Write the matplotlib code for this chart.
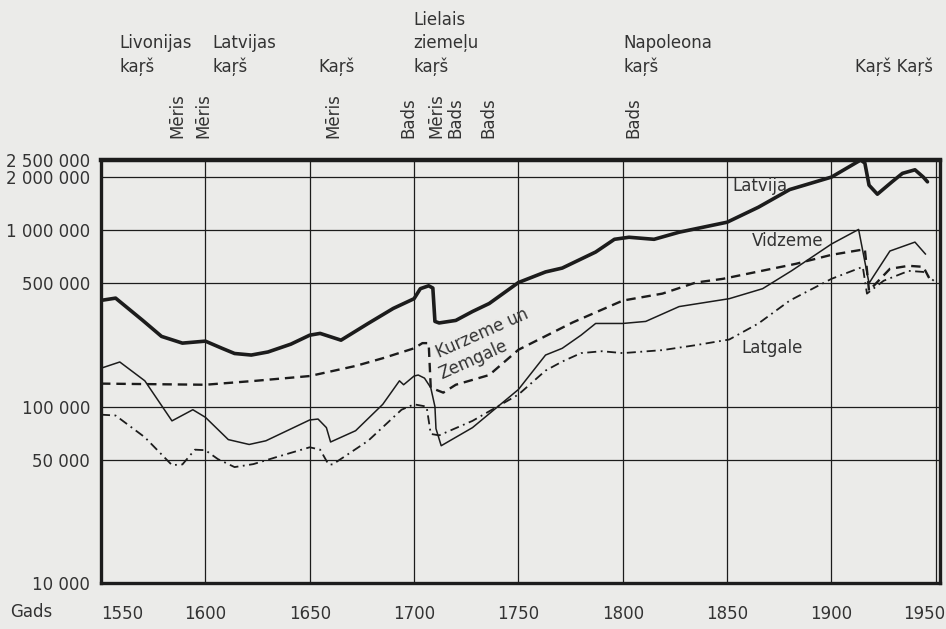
import matplotlib
matplotlib.use("Agg")
import matplotlib.pyplot as plt
from matplotlib.transforms import ScaledTranslation

# ──────────────────────────────────────────────────────────────
# Population estimates (people)
# ──────────────────────────────────────────────────────────────
latvija_years = [1550, 1557, 1570, 1579, 1589, 1600, 1608, 1614, 1622, 1630, 1641,
                 1650, 1655, 1665, 1678, 1690, 1700, 1703, 1707, 1709, 1710, 1712,
                 1720, 1728, 1736, 1750, 1763, 1771, 1787, 1796, 1803, 1815, 1827,
                 1850, 1865, 1880, 1900, 1914, 1916, 1918, 1922, 1929, 1934, 1940,
                 1944, 1946]
latvija_vals = [400e3, 412e3, 308e3, 250e3, 229e3, 235e3, 214e3, 200e3, 196e3, 204e3, 226e3,
                254e3, 260e3, 238e3, 296e3, 360e3, 409e3, 466e3, 484e3, 470e3, 304e3, 298e3,
                308e3, 346e3, 384e3, 505e3, 580e3, 610e3, 752e3, 888e3, 912e3, 888e3, 974e3,
                1.11e6, 1.35e6, 1.7e6, 2.0e6, 2.5e6, 2.4e6, 1.8e6, 1.6e6, 1.88e6, 2.1e6, 2.2e6,
                2.0e6, 1.88e6]

kurzeme_years = [1550, 1575, 1600, 1624, 1650, 1672, 1685, 1700, 1704, 1707, 1708,
                 1714, 1720, 1736, 1750, 1776, 1800, 1819, 1835, 1848, 1883, 1900,
                 1916, 1918, 1928, 1937, 1944, 1947]
kurzeme_vals = [135e3, 134e3, 133e3, 140e3, 149e3, 170e3, 188e3, 214e3, 229e3, 229e3, 128e3,
                120e3, 133e3, 151e3, 210e3, 300e3, 399e3, 437e3, 505e3, 530e3, 645e3, 725e3,
                780e3, 454e3, 604e3, 628e3, 620e3, 530e3]

vidzeme_years = [1550, 1559, 1571, 1584, 1594, 1600, 1611, 1621, 1629, 1650, 1654,
                 1658, 1660, 1672, 1685, 1693, 1695, 1700, 1702, 1705, 1708, 1710,
                 1710.5, 1713, 1728, 1750, 1763, 1771, 1780, 1787, 1800, 1811, 1827,
                 1851, 1867, 1881, 1900, 1913, 1918, 1920, 1928, 1940, 1945]
vidzeme_vals = [165e3, 179e3, 140e3, 83e3, 96e3, 87e3, 65e3, 61e3, 64e3, 84e3, 85e3,
                76e3, 63e3, 73e3, 103e3, 140e3, 133e3, 149e3, 151e3, 145e3, 128e3, 100e3,
                75e3, 60e3, 76e3, 125e3, 196e3, 214e3, 254e3, 296e3, 296e3, 304e3, 369e3,
                409e3, 466e3, 590e3, 835e3, 1.01e6, 500e3, 545e3, 762e3, 856e3, 733e3]

latgale_years = [1550, 1557, 1571, 1584, 1589, 1595, 1600, 1606, 1614, 1623, 1634,
                 1650, 1655, 1659, 1661, 1678, 1694, 1700, 1706, 1708, 1712, 1728,
                 1750, 1763, 1771, 1780, 1790, 1800, 1819, 1835, 1851, 1865, 1880,
                 1900, 1915, 1917, 1925, 1937, 1944, 1949]
latgale_vals = [90e3, 89e3, 67e3, 46.6e3, 47e3, 57e3, 56.6e3, 50.4e3, 45.4e3, 47.2e3, 51.7e3,
                58.8e3, 57e3, 47e3, 47e3, 64e3, 96e3, 103e3, 100e3, 70e3, 68.7e3, 83e3,
                117e3, 160e3, 180e3, 201e3, 206e3, 201e3, 209e3, 223e3, 240e3, 296e3, 399e3,
                530e3, 620e3, 437e3, 517e3, 588e3, 580e3, 517e3]

x_ticks = [1550, 1600, 1650, 1700, 1750, 1800, 1850, 1900, 1950]
y_ticks = [10_000, 50_000, 100_000, 500_000, 1_000_000, 2_000_000, 2_500_000]
y_labels = ["10 000", "50 000", "100 000", "500 000", "1 000 000", "2 000 000", "2 500 000"]

# wars / events written above the chart
war_years = [1559, 1603.5, 1654, 1699.5, 1800.5, 1911.5]
war_labels = ["Livonijas\nkaŗš", "Latvijas\nkaŗš", "Kaŗš", "Lielais\nziemeļu\nkaŗš",
              "Napoleona\nkaŗš", "Kaŗš Kaŗš"]
event_years = [1586.5, 1599, 1661.5, 1697.5, 1710.5, 1720, 1735.5, 1805]
event_labels = ["Mēris", "Mēris", "Mēris", "Bads", "Mēris", "Bads", "Bads", "Bads"]

# ──────────────────────────────────────────────────────────────
# Plot
# ──────────────────────────────────────────────────────────────
plt.rcParams["font.family"] = ["DejaVu Sans"]
INK = "#1c1c1c"
TXT = "#333333"
PAPER = "#ebebe9"

fig = plt.figure(figsize=(9.46, 6.29), dpi=100, facecolor=PAPER)
ax = fig.add_axes([101 / 946, 46 / 629, 839 / 946, 423 / 629], facecolor=PAPER)

ax.plot(latvija_years, latvija_vals, color=INK, linewidth=2.6, solid_capstyle="round")
ax.plot(kurzeme_years, kurzeme_vals, color=INK, linewidth=1.7, linestyle=(0, (4, 2.5)))
ax.plot(vidzeme_years, vidzeme_vals, color=INK, linewidth=1.1)
ax.plot(latgale_years, latgale_vals, color=INK, linewidth=1.3,
        linestyle=(0, (5, 2.5, 1, 2.5)))

ax.set_yscale("log")
ax.set_xlim(1550, 1952)
ax.set_ylim(10_000, 2_500_000)
ax.set_xticks(x_ticks)
ax.set_xticklabels([str(y) for y in x_ticks])
ax.set_yticks(y_ticks)
ax.set_yticklabels(y_labels)
ax.minorticks_off()
ax.tick_params(axis="both", length=0, labelsize=12, labelcolor=TXT)
ax.tick_params(axis="x", pad=16)
ax.tick_params(axis="y", pad=8)
xlabels = ax.get_xticklabels()
xlabels[0].set_ha("left")
xlabels[-1].set_transform(xlabels[-1].get_transform()
                          + ScaledTranslation(-0.12, 0, fig.dpi_scale_trans))
ax.grid(True, color=INK, linewidth=0.9)

for side in ["left", "right", "bottom"]:
    ax.spines[side].set_linewidth(2.4)
    ax.spines[side].set_color(INK)
ax.spines["top"].set_linewidth(3.2)
ax.spines["top"].set_color(INK)

# curve names
ax.text(1852.5, 1.77e6, "Latvija", fontsize=12, color=TXT, va="center", ha="left")
ax.text(1862, 0.867e6, "Vidzeme", fontsize=12, color=TXT, va="center", ha="left")
ax.text(1857, 214e3, "Latgale", fontsize=12, color=TXT, va="center", ha="left")
ax.text(1712, 188e3, "Kurzeme un", fontsize=12, color=TXT, rotation=24,
        rotation_mode="anchor", ha="left", va="baseline")
ax.text(1713, 142e3, "Zemgale", fontsize=12, color=TXT, rotation=24,
        rotation_mode="anchor", ha="left", va="baseline")

# annotations above the chart
top = ax.get_xaxis_transform()
for yr, lab in zip(war_years, war_labels):
    ax.text(yr, 1.199, lab, transform=top, fontsize=12, color=TXT,
            ha="left", va="bottom", linespacing=1.35)
for yr, lab in zip(event_years, event_labels):
    ax.text(yr, 1.052, lab, transform=top, fontsize=12, color=TXT,
            ha="center", va="bottom", rotation=90)

fig.text(10 / 946, 1 - 612 / 629, "Gads", fontsize=12, color=TXT, ha="left", va="center")

fig.savefig("out.png", dpi=100, facecolor=PAPER)
